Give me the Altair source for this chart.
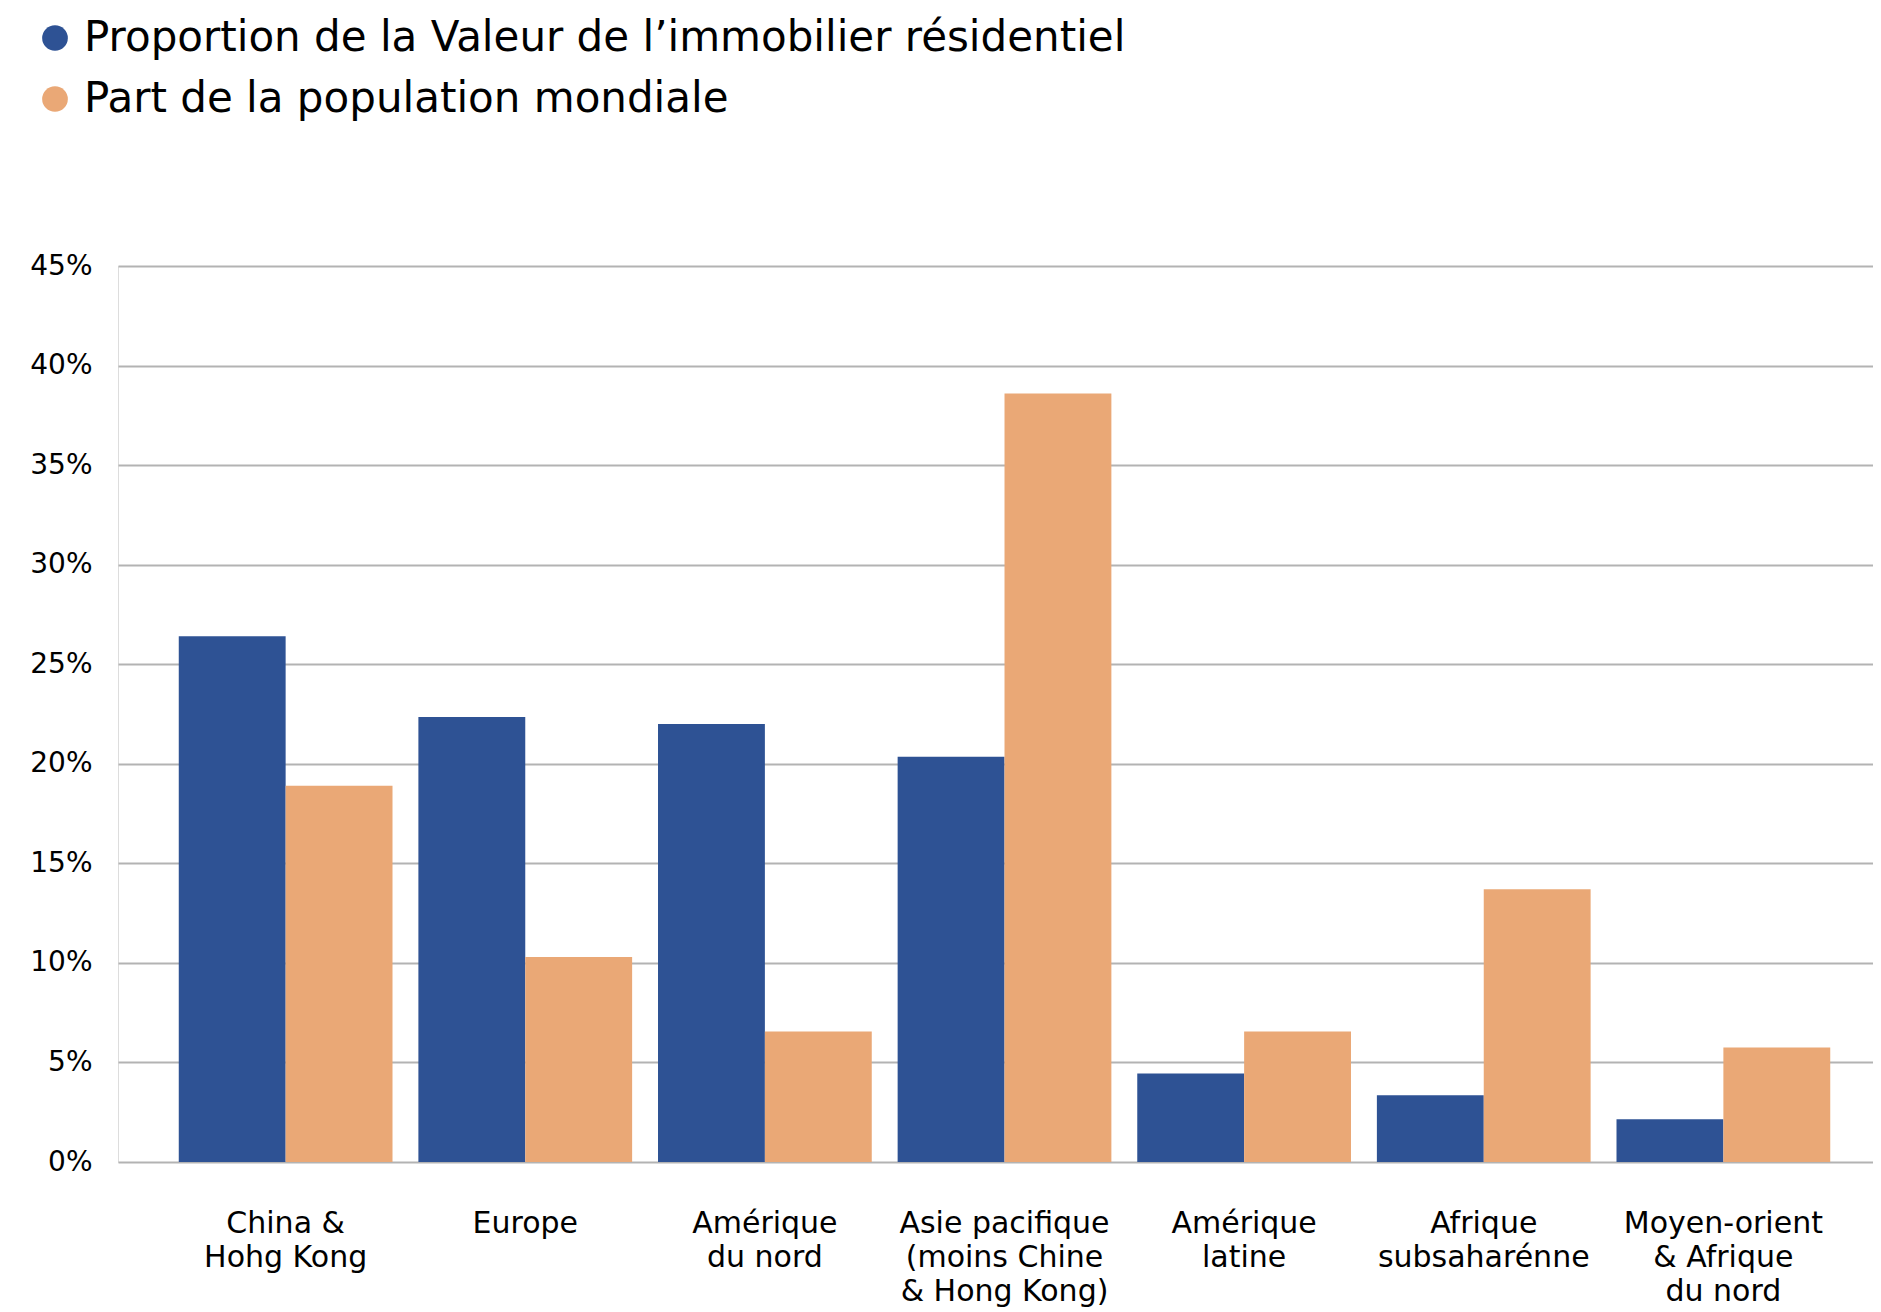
import altair as alt
import pandas as pd

categories = [
    "China &|Hohg Kong",
    "Europe",
    "Amérique|du nord",
    "Asie pacifique|(moins Chine|& Hong Kong)",
    "Amérique|latine",
    "Afrique|subsaharénne",
    "Moyen-orient|& Afrique|du nord",
]
series_names = [
    "Proportion de la Valeur de l\u2019immobilier résidentiel",
    "Part de la population mondiale",
]
valeur = [26.4, 22.35, 22.0, 20.35, 4.45, 3.35, 2.15]
population = [18.9, 10.3, 6.55, 38.6, 6.55, 13.7, 5.75]
colors = ["#2E5294", "#EAA876"]
y_ticks = [0, 5, 10, 15, 20, 25, 30, 35, 40, 45]

rows = []
for i, c in enumerate(categories):
    rows.append({"cat": c, "series": series_names[0], "value": valeur[i]})
    rows.append({"cat": c, "series": series_names[1], "value": population[i]})
df = pd.DataFrame(rows)

FONT = "DejaVu Sans"

chart = (
    alt.Chart(df)
    .mark_bar()
    .encode(
        x=alt.X(
            "cat:N",
            sort=categories,
            scale=alt.Scale(paddingInner=0.108, paddingOuter=0.216, align=0.587),
            axis=alt.Axis(
                title=None,
                labelAngle=0,
                labelExpr="split(datum.label, '|')",
                labelFontSize=30,
                labelFont=FONT,
                labelColor="#000000",
                labelPadding=46,
                labelLineHeight=34,
                labelBaseline="top",
                labelLimit=500,
                ticks=False,
                domain=False,
                grid=False,
            ),
        ),
        xOffset=alt.XOffset("series:N", sort=series_names, scale=alt.Scale(paddingInner=0, paddingOuter=0)),
        y=alt.Y(
            "value:Q",
            scale=alt.Scale(domain=[0, 45], nice=False),
            axis=alt.Axis(
                title=None,
                values=y_ticks,
                labelExpr="datum.value + '%'",
                labelFontSize=28,
                labelFont=FONT,
                labelColor="#000000",
                labelPadding=26,
                ticks=False,
                domain=False,
                grid=True,
                gridColor="#B3B3B3",
                gridWidth=2,
            ),
        ),
        color=alt.Color(
            "series:N",
            sort=series_names,
            scale=alt.Scale(domain=series_names, range=colors),
            legend=alt.Legend(
                title=None,
                orient="none",
                legendX=-84,
                legendY=-249,
                direction="vertical",
                symbolType="circle",
                symbolSize=660,
                symbolStrokeWidth=0,
                labelFontSize=42,
                labelFont=FONT,
                labelColor="#000000",
                labelOffset=8,
                rowPadding=19,
                labelLimit=2000,
            ),
        ),
    )
    .properties(
        width=1755,
        height=896,
        autosize=alt.AutoSizeParams(type="none"),
        padding={"left": 110, "top": 258, "right": 0, "bottom": 148},
    )
    .configure_view(stroke=None)
    .configure(background="#FFFFFF")
)

chart.save("out.html", embed_options={"renderer": "svg", "actions": False})
